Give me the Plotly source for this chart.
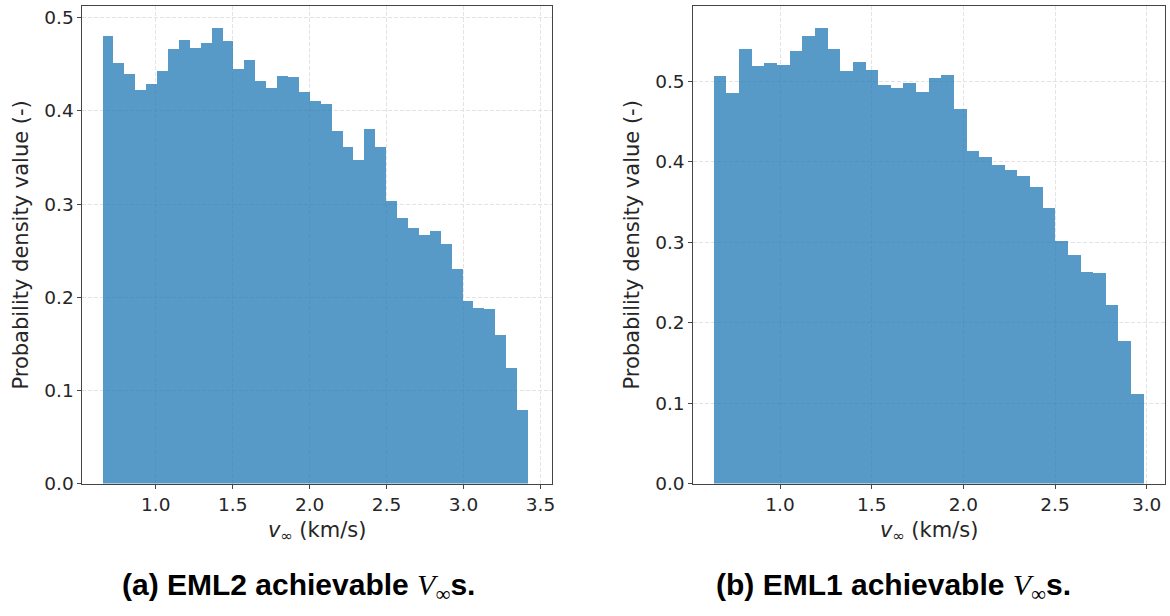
import numpy as np
import plotly.graph_objects as go

# ---------------- data ----------------
eml2_bin_start = 0.657
eml2_bin_width = 0.0709
eml2_density = [0.481, 0.451, 0.440, 0.423, 0.4285, 0.443, 0.467, 0.476, 0.468, 0.4725,
                0.489, 0.475, 0.445, 0.455, 0.432, 0.425, 0.438, 0.436, 0.420, 0.4106,
                0.408, 0.378, 0.361, 0.3476, 0.381, 0.361, 0.3035, 0.2853, 0.274, 0.2674,
                0.2716, 0.2574, 0.2304, 0.1956, 0.1882, 0.1871, 0.1592, 0.1238, 0.079]

eml1_bin_start = 0.640
eml1_bin_width = 0.0690
eml1_density = [0.5064, 0.4852, 0.5406, 0.5193, 0.5226, 0.5206, 0.5369, 0.5564, 0.5662, 0.5406,
                0.5129, 0.5242, 0.5145, 0.4949, 0.4918, 0.4979, 0.4864, 0.5043, 0.5076, 0.4656,
                0.4136, 0.4055, 0.3953, 0.3892, 0.3827, 0.368, 0.3424, 0.3013, 0.2838, 0.2627,
                0.2611, 0.222, 0.1776, 0.1117]

y_ticks = [0.0, 0.1, 0.2, 0.3, 0.4, 0.5]
x_ticks_a = [1.0, 1.5, 2.0, 2.5, 3.0, 3.5]
x_ticks_b = [1.0, 1.5, 2.0, 2.5, 3.0]

y_title = "Probability density value (-)"
x_title = "<i>v</i><sub>∞</sub> (km/s)"
caption_a = ("<b>(a) EML2 achievable </b><span style='font-family:\"Liberation Serif\";font-weight:normal'><i>V</i></span>"
             "<sub><span style='font-family:\"Liberation Serif\"'>∞</span></sub><b>s.</b>")
caption_b = ("<b>(b) EML1 achievable </b><span style='font-family:\"Liberation Serif\";font-weight:normal'><i>V</i></span>"
             "<sub><span style='font-family:\"Liberation Serif\"'>∞</span></sub><b>s.</b>")

# ---------------- figure ----------------
W, H = 1170, 616
BAR = "rgba(31,119,180,0.75)"
TXT = "#262626"
SPINE = "#444444"
GRID = "#e3e3e3"


def centers(start, width, n):
    return start + width * (np.arange(n) + 0.5)


fig = go.Figure()
fig.add_trace(go.Bar(x=centers(eml2_bin_start, eml2_bin_width, len(eml2_density)),
                     y=eml2_density, width=eml2_bin_width,
                     marker=dict(color=BAR, line=dict(width=0)),
                     xaxis="x", yaxis="y", showlegend=False))
fig.add_trace(go.Bar(x=centers(eml1_bin_start, eml1_bin_width, len(eml1_density)),
                     y=eml1_density, width=eml1_bin_width,
                     marker=dict(color=BAR, line=dict(width=0)),
                     xaxis="x2", yaxis="y2", showlegend=False))


def px(x):
    return x / W


def py(y):
    return 1 - y / H


ydom = [py(491.5), py(6)]
common_axis = dict(showline=True, mirror=True, linecolor=SPINE, linewidth=1,
                   ticks="outside", ticklen=4, tickwidth=1, tickcolor=SPINE,
                   tickfont=dict(family="DejaVu Sans", size=18.5, color=TXT),
                   showgrid=True, gridcolor=GRID, griddash="4px,2px", gridwidth=1,
                   zeroline=False, tickformat=".1f")

fig.update_layout(
    width=W, height=H,
    margin=dict(l=0, r=0, t=0, b=0),
    paper_bgcolor="white", plot_bgcolor="white",
    bargap=0, barmode="overlay",
    xaxis=dict(domain=[px(82.7), px(553.5)], range=[0.5235, 3.5725],
               tickvals=x_ticks_a, anchor="y", **common_axis),
    yaxis=dict(domain=ydom, range=[0, 0.5127], tickvals=y_ticks, anchor="x", **common_axis),
    xaxis2=dict(domain=[px(695.7), px(1169)], range=[0.527, 3.100],
                tickvals=x_ticks_b, anchor="y2", **common_axis),
    yaxis2=dict(domain=ydom, range=[0, 0.5934], tickvals=y_ticks, anchor="x2", **common_axis),
)

ann_font = dict(family="DejaVu Sans", size=21, color=TXT)
cap_font = dict(family="Liberation Sans", size=30, color="black")
annotations = [
    dict(text=y_title, x=px(21), y=py(248.7), textangle=-90, font=ann_font),
    dict(text=y_title, x=px(634), y=py(248.7), textangle=-90, font=ann_font),
    dict(text=x_title, x=px(318), y=py(540), font=ann_font),
    dict(text=x_title, x=px(932.5), y=py(540), font=ann_font),
    dict(text=caption_a, x=px(300), y=py(597), font=cap_font),
    dict(text=caption_b, x=px(897), y=py(597), font=cap_font),
]
for a in annotations:
    a.update(xref="paper", yref="paper", showarrow=False, xanchor="center", yanchor="middle")
fig.update_layout(annotations=annotations)

fig.write_html("out.html")
